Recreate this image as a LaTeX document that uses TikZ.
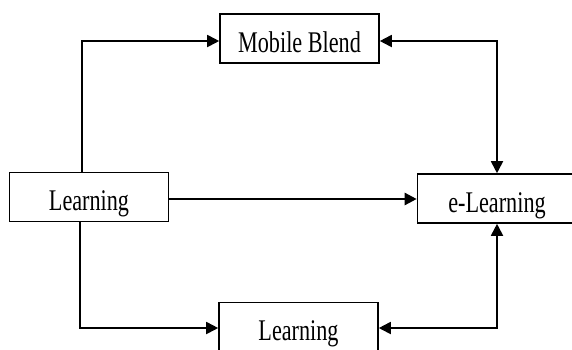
\documentclass[tikz,border=0pt]{standalone}
\usepackage{fontspec}
\newfontfamily\boxfont[FakeStretch=0.74]{Liberation Serif}
\usetikzlibrary{arrows.meta,calc}

\tikzset{
  stagebox/.style={draw, line width=1.6pt, minimum width=159pt, minimum height=49pt,
    inner sep=0pt, text height=27pt, text depth=0pt,
    font=\boxfont\fontsize{30}{30}\selectfont},
  link/.style={line width=1.8pt, -{Triangle[length=12pt,width=12pt]}},
  twolink/.style={line width=1.8pt, {Triangle[length=12pt,width=12pt]}-{Triangle[length=12pt,width=12pt]}}
}

\begin{document}
\begin{tikzpicture}[x=1pt,y=-1pt]
  \useasboundingbox (0,0) rectangle (572,349);
  \coordinate (L) at (89,197);
  \coordinate (MB) at (299.5,38.5);
  \coordinate (E) at (497,198.5);
  \coordinate (ML) at (298.5,327);

  \node[stagebox] (learn) at (L) {Learning};
  \node[stagebox] (mobile) at (MB) {Mobile Blend};
  \node[stagebox] (elearn) at (E) {e-Learning};
  \node[stagebox] (mlearn) at (ML) {Learning};

  \draw[link] ($(learn.north)+(-7,0)$) |- ($(mobile.west)+(0,2.5)$);
  \draw[link] ($(learn.south)+(-9,0)$) |- ($(mlearn.west)+(0,1)$);
  \draw[link, line width=2.4pt] ($(learn.east)+(0,2)$) -- ($(elearn.west)+(0,0.5)$);
  \draw[twolink] ($(mobile.east)+(0,2.5)$) -| (elearn.north);
  \draw[twolink] ($(mlearn.east)+(0,1)$) -| (elearn.south);
\end{tikzpicture}
\end{document}
